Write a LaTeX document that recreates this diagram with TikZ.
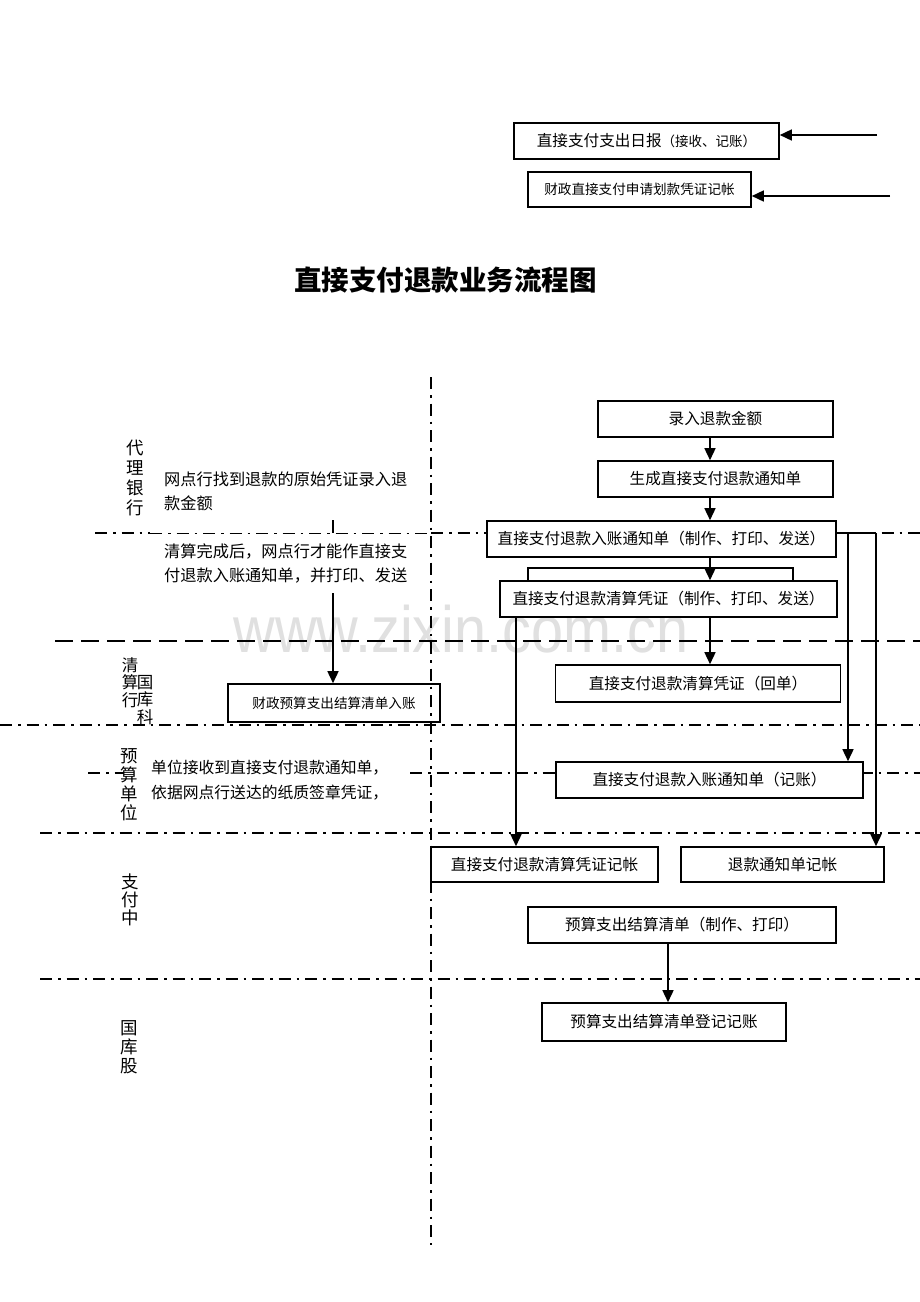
\documentclass[tikz,border=0pt]{standalone}
\usepackage{fontspec}
\usepackage{graphicx}
\setmainfont{Noto Sans CJK SC}
\newfontfamily\wmfont{Liberation Sans}
\usetikzlibrary{arrows.meta}
\tikzset{
  fbox/.style={draw, line width=1.6pt, fill=white, inner sep=0pt, align=center, font=\fontsize{15.6}{18}\selectfont},
  arr/.style={line width=1.5pt, -{Triangle[length=12pt,width=11pt]}},
  plain/.style={line width=1.5pt},
  dashdot/.style={line width=1.8pt, dash pattern=on 12pt off 6pt on 2.5pt off 6pt},
  longdash/.style={line width=1.8pt, dash pattern=on 18pt off 8pt},
  lane/.style={align=center, inner sep=0pt},
  note/.style={font=\fontsize{16.2}{24}\selectfont, align=left, inner sep=0pt, anchor=west},
}
\begin{document}
\begin{tikzpicture}[x=1pt,y=-1pt]
\fill[white] (0,0) rectangle (920,1302);
\useasboundingbox (0,0) rectangle (920,1302);

% watermark
\node[anchor=base, inner sep=0pt, text=black!12] (wm) at (461,652)
  {\scalebox{0.88}[1]{\wmfont\fontsize{65.5}{70}\selectfont www.zixin.com.cn}};

% column coordinates
\coordinate (c710) at (710,0);
\coordinate (c516) at (516,0);
\coordinate (c668) at (668,0);
\coordinate (j1) at (848,533);
\coordinate (j2) at (876,533);

% lane separators
\draw[dashdot] (431,377) -- (431,1245);
\draw[dashdot] (95,533) -- (150,533);
\draw[dashdot, line width=1pt] (150,533) -- (431,533);
\draw[dashdot] (431,533) -- (920,533);
\draw[longdash] (55,641) -- (920,641);
\draw[dashdot] (0,725) -- (920,725);
\draw[dashdot] (88,773) -- (124,773);
\draw[dashdot] (410,773) -- (920,773);
\draw[dashdot] (40,833) -- (920,833);
\draw[dashdot] (40,979) -- (920,979);

% top boxes
\node[fbox, minimum width=265pt, minimum height=36pt] (TB1) at (646.5,141)
  {直接支付支出日报{\fontsize{13.5}{16}\selectfont（接收、记账）}};
\node[fbox, minimum width=223pt, minimum height=35pt, font=\fontsize{13.6}{16}\selectfont] (TB2) at (639.5,189.5)
  {财政直接支付申请划款凭证记帐};
\coordinate (a1) at (877,135);
\coordinate (a2) at (890,196);
\draw[arr] (a1) -- (a1 -| TB1.east);
\draw[arr] (a2) -- (a2 -| TB2.east);

% title
\node[font=\fontsize{27.5}{30}\selectfont\bfseries, inner sep=0pt] (title) at (445.5,280) {直接支付退款业务流程图};

% lane labels
\node[lane, font=\fontsize{17.5}{20}\selectfont] (L1) at (135,477.5) {代\\理\\银\\行};
\node[lane, font=\fontsize{16.5}{17.5}\selectfont] (L2a) at (130,682.5) {清\\算\\行};
\node[lane, font=\fontsize{16.5}{17.5}\selectfont] (L2b) at (145,700) {国\\库\\科};
\node[lane, font=\fontsize{17.5}{19}\selectfont] (L3) at (129,785) {预\\算\\单\\位};
\node[lane, font=\fontsize{17.5}{18}\selectfont] (L4) at (130,900) {支\\付\\中};
\node[lane, font=\fontsize{17.5}{19}\selectfont] (L5) at (129,1047) {国\\库\\股};

% left notes
\node[note] (T1) at (164,491) {网点行找到退款的原始凭证录入退\\款金额};
\node[note] (T2) at (164,563) {清算完成后，网点行才能作直接支\\付退款入账通知单，并打印、发送};
\node[note, font=\fontsize{15.8}{25}\selectfont] (T3) at (151,780.5) {单位接收到直接支付退款通知单，\\依据网点行送达的纸质签章凭证，};

\node[draw, line width=1.6pt, inner sep=0pt, minimum width=212pt, minimum height=38pt, font=\fontsize{13.6}{16}\selectfont] (LB) at (334,703) {财政预算支出结算清单入账};
\coordinate (k1) at (333,520);
\coordinate (k2) at (333,533);
\coordinate (k3) at (333,593);
\draw[plain] (k1) -- (k2);
\draw[arr] (k3) -- (k3 |- LB.north);

% right flow
\node[fbox, minimum width=235pt, minimum height=36pt] (B1) at (715.5,419) {录入退款金额};
\node[fbox, minimum width=235pt, minimum height=36pt] (B2) at (715.5,479) {生成直接支付退款通知单};
\node[fbox, minimum width=349pt, minimum height=36pt] (B3) at (661.5,539) {直接支付退款入账通知单（制作、打印、发送）};
\node[draw, line width=1.5pt, fill=white, minimum width=265pt, minimum height=24pt, inner sep=0pt] (S) at (660.5,580) {};
\node[fbox, minimum width=337pt, minimum height=36pt] (B4) at (668.5,599) {直接支付退款清算凭证（制作、打印、发送）};
\node[fbox, minimum width=285pt, minimum height=37pt] (B5) at (698,683.5) {直接支付退款清算凭证（回单）};
\node[fbox, minimum width=307pt, minimum height=36pt] (B6) at (709.5,780) {直接支付退款入账通知单（记账）};
\node[fbox, minimum width=227pt, minimum height=35pt] (B7) at (544.5,864.5) {直接支付退款清算凭证记帐};
\node[fbox, minimum width=203pt, minimum height=35pt] (B8) at (782.5,864.5) {退款通知单记帐};
\node[fbox, minimum width=308pt, minimum height=36pt] (B9) at (682,925) {预算支出结算清单（制作、打印）};
\node[fbox, minimum width=244pt, minimum height=38pt] (B10) at (664,1022) {预算支出结算清单登记记账};

\draw[arr] (B1.south -| c710) -- (B2.north -| c710);
\draw[arr] (B2.south -| c710) -- (B3.north -| c710);
\draw[arr] (B3.south -| c710) -- (B4.north -| c710);
\draw[arr] (B4.south -| c710) -- (B5.north -| c710);
\draw[arr] (B4.south -| c516) -- (B7.north -| c516);
\draw[plain] (B3.east |- j1) -- (j2);
\draw[arr] (j1) -- (B6.north -| j1);
\draw[arr] (j2) -- (B8.north -| j2);
\draw[arr] (B9.south -| c668) -- (B10.north -| c668);
\end{tikzpicture}
\end{document}
